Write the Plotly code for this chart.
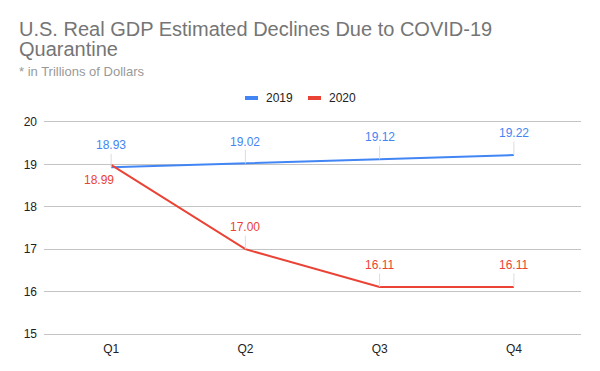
import plotly.graph_objects as go

quarters = ["Q1", "Q2", "Q3", "Q4"]
gdp_2019 = [18.93, 19.02, 19.12, 19.22]
gdp_2020 = [18.99, 17.00, 16.11, 16.11]
y_ticks = [15, 16, 17, 18, 19, 20]

BLUE = "#4285f4"
RED = "#ea4335"
FONT = "Liberation Sans, Arial, sans-serif"
GRID = "#c4c4c4"

W, H = 600, 371
L, R, T, B = 44, 19, 122, 37
PW, PH = W - L - R, H - T - B


def px(x):
    return (x - L) / PW


def py(y):
    return (H - B - y) / PH


fig = go.Figure()
fig.add_trace(go.Scatter(x=quarters, y=gdp_2019, mode="lines", name="2019",
                         line=dict(color=BLUE, width=2)))
fig.add_trace(go.Scatter(x=quarters, y=gdp_2020, mode="lines", name="2020",
                         line=dict(color=RED, width=2)))

for q, v in zip(quarters, gdp_2019):
    fig.add_annotation(x=q, y=v, xref="x", yref="y", text=f"{v:.2f}",
                       showarrow=True, arrowhead=0, arrowwidth=1,
                       arrowcolor="#dddddd", ax=0, ay=-22,
                       font=dict(color=BLUE, size=12, family=FONT))
for i, (q, v) in enumerate(zip(quarters, gdp_2020)):
    if i == 0:
        fig.add_annotation(x=q, y=v, xref="x", yref="y", text=f"{v:.2f}",
                           showarrow=False, xshift=-12, yshift=-15,
                           font=dict(color=RED, size=12, family=FONT))
    else:
        fig.add_annotation(x=q, y=v, xref="x", yref="y", text=f"{v:.2f}",
                           showarrow=True, arrowhead=0, arrowwidth=1,
                           arrowcolor="#dddddd", ax=0, ay=-22,
                           font=dict(color=RED, size=12, family=FONT))

# Title & subtitle
fig.add_annotation(text="U.S. Real GDP Estimated Declines Due to COVID-19",
                   xref="paper", yref="paper", x=px(17), y=py(29),
                   xanchor="left", yanchor="middle", showarrow=False,
                   font=dict(size=20, color="#757575", family=FONT))
fig.add_annotation(text="Quarantine",
                   xref="paper", yref="paper", x=px(17), y=py(49),
                   xanchor="left", yanchor="middle", showarrow=False,
                   font=dict(size=20, color="#757575", family=FONT))
fig.add_annotation(text="* in Trillions of Dollars",
                   xref="paper", yref="paper", x=px(17), y=py(72),
                   xanchor="left", yanchor="middle", showarrow=False,
                   font=dict(size=13, color="#999999", family=FONT))

# Custom legend
legend_items = [("2019", BLUE, 245), ("2020", RED, 308)]
for name, color, x0 in legend_items:
    fig.add_shape(type="line", xref="paper", yref="paper",
                  x0=px(x0), x1=px(x0 + 13), y0=py(98), y1=py(98),
                  line=dict(color=color, width=4))
    fig.add_annotation(text=name, xref="paper", yref="paper",
                       x=px(x0 + 19), y=py(98), xanchor="left", yanchor="middle",
                       showarrow=False, font=dict(size=12, color="#222222", family=FONT))

fig.update_layout(
    template="none",
    width=W, height=H,
    margin=dict(l=L, r=R, t=T, b=B, autoexpand=False),
    paper_bgcolor="white", plot_bgcolor="white",
    font=dict(family=FONT, size=12, color="#222222"),
    showlegend=False,
    xaxis=dict(range=[-0.5, 3.5], showgrid=False, zeroline=False,
               showline=True, mirror=True, linecolor=GRID, linewidth=1,
               ticks="", ticklabelstandoff=4, tickfont=dict(size=12, color="#222222")),
    yaxis=dict(range=[15, 20], tickvals=y_ticks, showgrid=True, gridcolor=GRID,
               gridwidth=1, zeroline=False, showline=False, ticks="",
               ticklabelstandoff=6,
               tickfont=dict(size=12, color="#222222")),
)

fig.write_html("out.html", config={"displayModeBar": False},
               post_script="document.body.style.margin='0';document.body.style.padding='0';")
